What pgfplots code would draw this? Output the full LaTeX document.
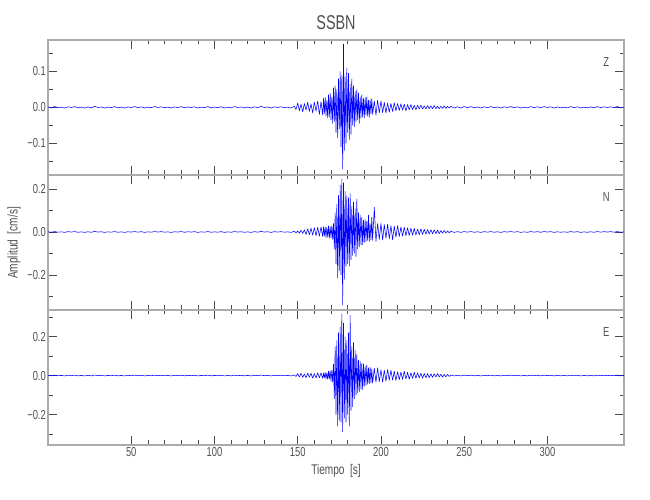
\documentclass[border=0pt]{standalone}
\usepackage{fontspec}
\setmainfont{Liberation Sans}[FakeStretch=0.72]
\usepackage{pgfplots}
\pgfplotsset{compat=1.18}
\usepackage{pgfplotstable}
\definecolor{axgray}{HTML}{ABABAB}
\definecolor{tkgray}{HTML}{4A4A4A}
\definecolor{txgray}{HTML}{505050}

% quiet pre-event noise
\pgfplotstableread[row sep=\\]{
x y\\
0 0.001\\ 2 -0.0015\\ 4 0.002\\ 6 -0.001\\ 8 0.0005\\ 10 -0.002\\ 12 0.0015\\ 14 -0.0005\\ 16 0.002\\ 18 -0.0015\\
20 0.0005\\ 22 -0.002\\ 24 0.001\\ 26 -0.0015\\ 28 0.0025\\ 30 -0.0005\\ 32 0.001\\ 34 -0.002\\ 36 0.0005\\ 38 -0.001\\
40 0.002\\ 42 -0.0015\\ 44 0.0005\\ 46 -0.002\\ 48 0.001\\ 50 -0.0005\\ 52 0.002\\ 54 -0.001\\ 56 0.0015\\ 58 -0.002\\
60 0.0005\\ 62 -0.001\\ 64 0.002\\ 66 -0.0005\\ 68 0.0015\\ 70 -0.001\\ 72 0.0005\\ 74 -0.002\\ 76 0.001\\ 78 -0.0005\\
80 0.002\\ 82 -0.0015\\ 84 0.001\\ 86 -0.0005\\ 88 0.0015\\ 90 -0.002\\ 92 0.0005\\ 94 -0.001\\ 96 0.002\\ 98 -0.0015\\
100 0.0005\\ 102 -0.001\\ 104 0.0015\\ 106 -0.002\\ 108 0.0005\\ 110 -0.0015\\ 112 0.002\\ 114 -0.0005\\ 116 0.001\\ 118 -0.0015\\
120 0.0005\\ 122 -0.002\\ 124 0.0015\\ 126 -0.001\\ 128 0.0025\\ 130 -0.0005\\ 132 0.001\\ 134 -0.002\\ 136 0.0015\\ 138 -0.0005\\
140 0.0015\\ 142 -0.001\\ 144 0.0005\\ 146 -0.002\\ 148 0.003\\
}\quiethead

% quiet coda noise
\pgfplotstableread[row sep=\\]{
x y\\
242 0.003\\ 244 -0.002\\ 246 0.0015\\ 248 -0.002\\ 250 0.002\\ 252 -0.001\\ 254 0.002\\ 256 -0.0015\\ 258 0.001\\ 260 -0.002\\
262 0.0015\\ 264 -0.001\\ 266 0.002\\ 268 -0.0015\\ 270 0.001\\ 272 -0.002\\ 274 0.0015\\ 276 -0.0005\\ 278 0.002\\ 280 -0.001\\
282 0.0015\\ 284 -0.002\\ 286 0.0005\\ 288 -0.0015\\ 290 0.002\\ 292 -0.001\\ 294 0.0015\\ 296 -0.0015\\ 298 0.002\\ 300 -0.0005\\
302 0.0015\\ 304 -0.002\\ 306 0.001\\ 308 -0.0015\\ 310 0.0005\\ 312 -0.0015\\ 314 0.002\\ 316 -0.001\\ 318 0.0015\\ 320 -0.002\\
322 0.0005\\ 324 -0.0015\\ 326 0.001\\ 328 -0.0015\\ 330 0.002\\ 332 -0.001\\ 334 0.0015\\ 336 -0.0005\\ 338 0.0015\\ 340 -0.001\\
342 0.002\\ 344 -0.0015\\ 346 0.0005\\
}\quiettail

\pgfplotsset{
  seis/.style={
    scale only axis, width=576pt, height=135pt, anchor=south west,
    xmin=0, xmax=346,
    xtick={50,100,150,200,250,300}, minor x tick num=4,
    tick align=inside, tick pos=both,
    major tick length=9pt, minor tick length=4.5pt,
    axis line style={axgray, line width=1.3pt},
    every tick/.style={tkgray, line width=0.6pt},
    tick label style={font=\fontsize{13}{13}\selectfont, text=txgray},
    yticklabel style={inner xsep=2pt},
    xticklabel style={inner ysep=2pt},
    /pgf/number format/assume math mode=true,
    clip=true,
  },
  trace/.style={blue, line width=0.55pt, mark=none, line join=bevel},
}

\begin{document}
\begin{tikzpicture}
\path[use as bounding box] (0,0) rectangle (650pt,500pt);

% ---------------- Z ----------------
\begin{axis}[seis, at={(48pt,325pt)},
  ymin=-0.188, ymax=0.187,
  ytick={-0.1,0,0.1}, yticklabels={−0.1,0.0,0.1},
  minor ytick={-0.15,-0.05,0.05,0.15},
  xticklabels={}]
\addplot[trace] table {\quiethead};
\addplot[trace] coordinates {
(148,0.003)(149,-0.006)(150,0.012)(151,-0.010)(152,0.009)(153,-0.013)(154,0.011)(155,-0.008)(156,0.014)(157,-0.012)
(158,0.010)(159,-0.016)(160,0.015)(161,-0.011)(162,0.018)(163,-0.020)(164,0.016)
(165,-0.022)(165.5,0.025)(166,-0.018)(166.5,0.028)(167,-0.024)(167.5,0.020)(168,-0.030)(168.5,0.035)(169,-0.028)(169.5,0.040)
(170,-0.035)(170.5,0.030)(171,-0.045)(171.5,0.055)(172,-0.040)(172.5,0.060)(173,-0.070)(173.5,0.050)(174,-0.085)(174.5,0.080)
(175,-0.060)(175.5,0.100)(176,-0.110)(176.5,0.090)(177,-0.172)(177.5,0.176)(178,-0.120)(178.5,0.085)(179,-0.100)(179.5,0.110)
(180,-0.070)(180.5,0.095)(181,-0.090)(181.5,0.065)(182,-0.075)(182.5,0.080)(183,-0.050)(183.5,0.060)(184,-0.055)(184.5,0.045)
(185,-0.040)(185.5,0.050)(186,-0.035)(186.5,0.040)(187,-0.045)(187.5,0.030)(188,-0.030)(188.5,0.035)(189,-0.028)(189.5,0.025)
(190,-0.030)(190.5,0.028)(191,-0.022)(191.5,0.030)(192,-0.025)(192.5,0.020)(193,-0.028)(193.5,0.022)(194,-0.018)(194.5,0.024)
(195,-0.020)(196,0.018)(197,-0.022)(198,0.020)(199,-0.016)(200,0.018)(201,-0.015)(202,0.014)(203,-0.016)(204,0.012)
(205,-0.014)(206,0.011)(207,-0.012)(208,0.013)(209,-0.010)(210,0.011)(211,-0.009)(212,0.010)(213,-0.008)(214,0.009)
(215,-0.010)(216,0.008)(217,-0.007)(218,0.008)(219,-0.007)(220,0.006)(221,-0.007)(222,0.006)(223,-0.005)(224,0.006)
(225,-0.005)(226,0.004)(227,-0.005)(228,0.005)(229,-0.004)(230,0.004)(231,-0.004)(232,0.005)(233,-0.004)(234,0.003)
(235,-0.004)(236,0.003)(237,-0.003)(238,0.004)(239,-0.003)(240,0.003)(241,-0.002)(242,0.003)
};
\addplot[trace] table {\quiettail};
\node[font=\fontsize{13}{13}\selectfont, text=txgray] at (rel axis cs:0.969,0.837) {Z};
\end{axis}

% ---------------- N ----------------
\begin{axis}[seis, at={(48pt,190pt)},
  ymin=-0.363, ymax=0.265,
  ytick={-0.2,0,0.2}, yticklabels={−0.2,0.0,0.2},
  minor ytick={-0.3,-0.1,0.1},
  xticklabels={}]
\addplot[trace] table {\quiethead};
\addplot[trace] coordinates {
(148,0.003)(149,-0.004)(150,0.005)(151,-0.006)(152,0.008)(153,-0.007)(154,0.010)(155,-0.012)(156,0.015)(157,-0.013)
(158,0.018)(159,-0.016)(160,0.020)(161,-0.018)(162,0.022)(163,-0.020)(164,0.024)
(165,-0.022)(165.5,0.025)(166,-0.020)(166.5,0.024)(167,-0.026)(167.5,0.022)(168,-0.025)(168.5,0.028)(169,-0.030)(169.5,0.026)
(170,-0.028)(170.5,0.030)(171,-0.035)(171.5,0.040)(172,-0.080)(172.5,0.090)(173,-0.150)(173.5,0.130)(174,-0.215)(174.5,0.170)
(175,-0.180)(175.5,0.220)(176,-0.200)(176.5,0.248)(177,-0.340)(177.5,0.230)(178,-0.220)(178.5,0.190)(179,-0.160)(179.5,0.170)
(180,-0.150)(180.5,0.160)(181,-0.160)(181.5,0.180)(182,-0.130)(182.5,0.120)(183,-0.110)(183.5,0.140)(184,-0.100)(184.5,0.110)
(185,-0.115)(185.5,0.155)(186,-0.080)(186.5,0.090)(187,-0.070)(187.5,0.080)(188,-0.060)(188.5,0.070)(189,-0.060)(189.5,0.055)
(190,-0.050)(190.5,0.060)(191,-0.045)(191.5,0.050)(192,-0.040)(192.5,0.080)(193,-0.045)(193.5,0.040)(194,-0.038)(194.5,0.070)
(195,-0.040)(196,0.115)(197,-0.045)(198,0.040)(199,-0.035)(200,0.040)(201,-0.038)(202,0.035)(203,-0.030)(204,0.036)
(205,-0.032)(206,0.030)(207,-0.037)(208,0.028)(209,-0.025)(210,0.030)(211,-0.022)(212,0.024)(213,-0.020)(214,0.022)
(215,-0.018)(216,0.020)(217,-0.017)(218,0.018)(219,-0.016)(220,0.017)(221,-0.015)(222,0.014)(223,-0.013)(224,0.015)
(225,-0.012)(226,0.013)(227,-0.011)(228,0.012)(229,-0.010)(230,0.011)(231,-0.009)(232,0.010)(233,-0.008)(234,0.009)
(235,-0.008)(236,0.007)(237,-0.006)(238,0.007)(239,-0.005)(240,0.005)(241,-0.004)(242,0.003)
};
\addplot[trace] table {\quiettail};
\node[font=\fontsize{13}{13}\selectfont, text=txgray] at (rel axis cs:0.969,0.837) {N};
\end{axis}

% ---------------- E ----------------
\begin{axis}[seis, at={(48pt,55pt)},
  ymin=-0.356, ymax=0.336,
  ytick={-0.2,0,0.2}, yticklabels={−0.2,0.0,0.2},
  minor ytick={-0.3,-0.1,0.1,0.3},
  xticklabels={50,100,150,200,250,300}]
\addplot[trace] table {\quiethead};
\addplot[trace] coordinates {
(148,0.003)(149,-0.005)(150,0.010)(151,-0.008)(152,0.012)(153,-0.010)(154,0.008)(155,-0.011)(156,0.013)(157,-0.009)
(158,0.012)(159,-0.014)(160,0.011)(161,-0.013)(162,0.015)(163,-0.012)(164,0.014)
(165,-0.015)(165.5,0.013)(166,-0.012)(166.5,0.016)(167,-0.018)(167.5,0.015)(168,-0.020)(168.5,0.022)(169,-0.018)(169.5,0.025)
(170,-0.030)(170.5,0.028)(171,-0.035)(171.5,0.060)(172,-0.120)(172.5,0.150)(173,-0.200)(173.5,0.180)(174,-0.260)(174.5,0.220)
(175,-0.230)(175.5,0.250)(176,-0.240)(176.5,0.318)(177,-0.290)(177.5,0.270)(178,-0.220)(178.5,0.200)(179,-0.240)(179.5,0.180)
(180,-0.200)(180.5,0.220)(181,-0.260)(181.5,0.310)(182,-0.180)(182.5,0.150)(183,-0.160)(183.5,0.170)(184,-0.120)(184.5,0.130)
(185,-0.100)(185.5,0.110)(186,-0.090)(186.5,0.080)(187,-0.085)(187.5,0.075)(188,-0.070)(188.5,0.065)(189,-0.075)(189.5,0.060)
(190,-0.055)(190.5,0.050)(191,-0.050)(191.5,0.055)(192,-0.045)(192.5,0.040)(193,-0.042)(193.5,0.045)(194,-0.038)(194.5,0.035)
(195,-0.040)(196,0.038)(197,-0.035)(198,0.040)(199,-0.032)(200,0.030)(201,-0.035)(202,0.028)(203,-0.030)(204,0.032)
(205,-0.025)(206,0.028)(207,-0.024)(208,0.022)(209,-0.026)(210,0.020)(211,-0.022)(212,0.018)(213,-0.020)(214,0.022)
(215,-0.018)(216,0.017)(217,-0.019)(218,0.015)(219,-0.016)(220,0.018)(221,-0.014)(222,0.015)(223,-0.013)(224,0.012)
(225,-0.014)(226,0.011)(227,-0.012)(228,0.010)(229,-0.011)(230,0.009)(231,-0.010)(232,0.009)(233,-0.008)(234,0.010)
(235,-0.008)(236,0.007)(237,-0.008)(238,0.006)(239,-0.007)(240,0.006)(241,-0.005)(242,0.003)
};
\addplot[trace] table {\quiettail};
\node[font=\fontsize{13}{13}\selectfont, text=txgray] at (rel axis cs:0.969,0.837) {E};
\end{axis}

% titles and labels
\node[font=\fontsize{20}{20}\selectfont, text=txgray] at (336pt,477.5pt) {SSBN};
\node[font=\fontsize{14}{14}\selectfont, text=txgray] at (336pt,29pt) {Tiempo\ \ [s]};
\node[font=\fontsize{14}{14}\selectfont, text=txgray, rotate=90] at (14pt,257pt) {Amplitud\ \ [cm/s]};
\end{tikzpicture}
\end{document}
